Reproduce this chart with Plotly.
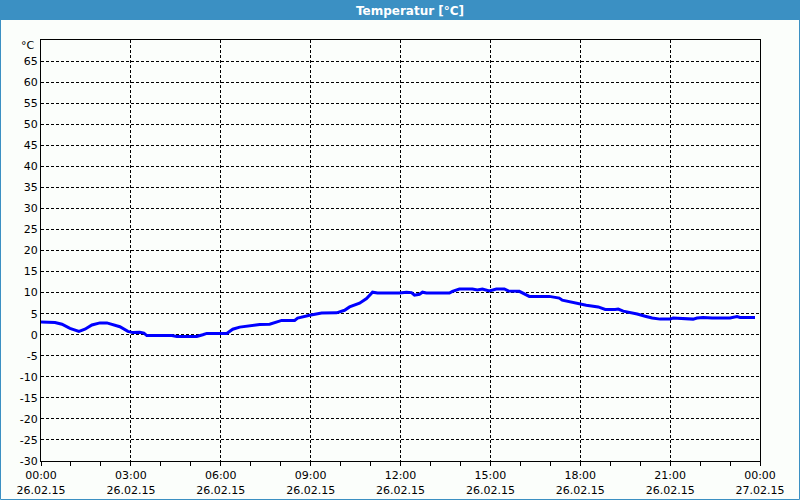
import plotly.graph_objects as go
import pandas as pd

# ---- data ----
times = ["00:00","00:28","00:42","00:58","01:16","01:28","01:42","01:58","02:12","02:24",
         "02:38","02:54","03:04","03:18","03:26","03:32","03:58","04:08","04:22","04:32",
         "05:12","05:24","05:32","06:12","06:24","06:38","06:58","07:18","07:38","07:48",
         "08:02","08:28","08:34","08:58","09:22","09:52","10:08","10:18","10:38","10:52",
         "11:04","11:14","11:58","12:12","12:22","12:28","12:38","12:44","12:52","13:38",
         "13:44","13:58","14:24","14:34","14:44","14:58","15:12","15:28","15:36","15:58",
         "16:04","16:18","16:58","17:10","17:18","17:24","17:38","17:58","18:12","18:36",
         "18:50","19:10","19:16","19:26","19:40","19:54","20:10","20:24","20:40","21:00",
         "21:06","21:30","21:46","21:54","22:06","22:24","23:00","23:14","23:20","23:50"]
temps = [3.0, 2.9, 2.5, 1.5, 0.8, 1.3, 2.3, 2.8, 2.8, 2.4,
         1.9, 0.8, 0.5, 0.6, 0.4, -0.2, -0.2, -0.1, -0.2, -0.4,
         -0.4, 0.0, 0.3, 0.3, 1.3, 1.8, 2.1, 2.45, 2.5, 2.85,
         3.4, 3.4, 3.95, 4.6, 5.15, 5.2, 5.8, 6.6, 7.5, 8.6,
         10.1, 9.9, 9.9, 10.1, 10.0, 9.4, 9.6, 10.1, 9.9, 9.9,
         10.3, 10.85, 10.85, 10.6, 10.85, 10.4, 10.85, 10.85, 10.4, 10.3,
         9.9, 9.1, 9.1, 8.8, 8.7, 8.2, 7.8, 7.4, 7.0, 6.6,
         6.0, 6.0, 6.1, 5.6, 5.3, 4.9, 4.4, 3.95, 3.7, 3.7,
         3.95, 3.7, 3.7, 3.95, 4.1, 3.95, 3.95, 4.3, 4.1, 4.1]
day = "2015-02-26"
y_ticks = list(range(-30, 66, 5))
y_labels = [str(v) for v in y_ticks]
unit_label = "°C"
title_text = "Temperatur [°C]"

x = pd.to_datetime([f"{day} {t}" for t in times])

W, H = 800, 500
L, R, T, B = 41, 40, 40, 39
pw, ph = W - L - R, H - T - B

def px(xc):
    return (xc - L) / pw

def py(yc):
    return (H - B - yc) / ph

fig = go.Figure()
fig.add_trace(go.Scatter(x=x, y=temps, mode="lines",
                         line=dict(color="#0000ff", width=3), hoverinfo="skip"))

font = dict(family="DejaVu Sans", size=11, color="#000000")

fig.update_layout(
    width=W, height=H,
    margin=dict(l=L, r=R, t=T, b=B, autoexpand=False),
    paper_bgcolor="#fbfefb", plot_bgcolor="#fbfefb",
    showlegend=False,
    font=font,
    title=dict(text="<b>" + title_text + "</b>", x=410 / W, xref="container", xanchor="center",
               y=1 - 10.5 / H, yref="container", yanchor="middle", automargin=False,
               font=dict(family="DejaVu Sans", size=12, color="#ffffff")),
    xaxis=dict(
        type="date", automargin=False,
        range=[pd.Timestamp(day), pd.Timestamp(day) + pd.Timedelta(hours=24)],
        dtick=3 * 3600 * 1000, tick0=day,
        tickformat="%H:%M<br>%d.%m.%y",
        showgrid=True, gridcolor="#000000", griddash="3px,2px", gridwidth=1,
        showline=True, linecolor="#000000", linewidth=1, mirror=True,
        ticks="outside", ticklen=4, tickcolor="#000000",
        minor=dict(dtick=3600 * 1000, ticks="outside", ticklen=4, tickcolor="#000000", showgrid=False),
        zeroline=False, tickfont=font, fixedrange=True,
    ),
    yaxis=dict(
        range=[-30, 70], automargin=False,
        tickvals=y_ticks, ticktext=y_labels,
        showgrid=True, gridcolor="#000000", griddash="3px,2px", gridwidth=1,
        showline=True, linecolor="#000000", linewidth=1, mirror=True,
        ticks="", zeroline=False, tickfont=font, fixedrange=True,
    ),
    annotations=[
        dict(text=unit_label, xref="paper", yref="paper", x=px(37), y=py(45.5),
             xanchor="right", yanchor="middle", showarrow=False, font=font),
    ],
    shapes=[
        dict(type="rect", xref="paper", yref="paper",
             x0=px(0), x1=px(W), y0=py(0), y1=py(20),
             fillcolor="#3b90c3", line=dict(width=0), layer="above"),
        dict(type="rect", xref="paper", yref="paper",
             x0=px(0.5), x1=px(W - 0.5), y0=py(0.5), y1=py(H - 0.5),
             fillcolor="rgba(0,0,0,0)", line=dict(color="#3b90c3", width=1), layer="above"),
    ],
)

fig.write_html("out.html")
